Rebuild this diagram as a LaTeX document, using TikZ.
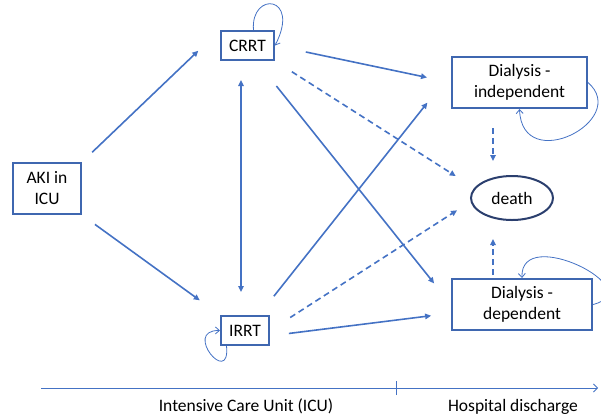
\documentclass[tikz,border=0pt]{standalone}
\usepackage{fontspec}
\setmainfont{Carlito}
\usepackage{xcolor}
\definecolor{lnblue}{HTML}{4472C4}
\definecolor{bxblue}{HTML}{3F67B0}
\definecolor{dthblue}{HTML}{2B3F6E}
\usepackage{tikz}
\usetikzlibrary{arrows.meta,shapes.geometric}

\begin{document}
\begin{tikzpicture}[x=1pt,y=-1pt,font=\fontsize{17.5}{21}\selectfont,text=black,
  state/.style={draw=bxblue,line width=2pt,inner sep=0pt,align=center},
  trans/.style={lnblue,line width=1.6pt,-{Triangle[length=6pt,width=5.5pt]}},
  dtrans/.style={trans,dash pattern=on 6pt off 4pt},
  stay/.style={lnblue,line width=0.8pt,-{Straight Barb[length=4pt,width=7pt]}}]
  \useasboundingbox (0,0) rectangle (601,416);

  %% states
  \node[state,minimum width=68pt,minimum height=51pt] (aki) at (47,188.5) {AKI in\\ICU};
  \node[state,minimum width=53pt,minimum height=29pt] (crrt) at (247.5,45.5) {CRRT};
  \node[state,minimum width=48pt,minimum height=29pt] (irrt) at (245,330.5) {IRRT};
  \node[state,minimum width=135pt,minimum height=51pt] (dind) at (519.5,82.5) {Dialysis -\\independent};
  \node[state,minimum width=140pt,minimum height=51pt] (ddep) at (522,304.5) {Dialysis -\\dependent};
  \node[state,ellipse,draw=dthblue,minimum width=82pt,minimum height=44pt] (death) at (512,198) {death};

  %% transitions
  \draw[trans,shorten <=14pt,shorten >=30pt] (aki.north east) -- (crrt.north west);
  \draw[trans,shorten <=16pt,shorten >=25pt] (aki.south east) -- (irrt.north west);
  \draw[trans,arrows={Triangle[length=6pt,width=5.5pt]-Triangle[length=6pt,width=5.5pt]},
    shorten <=19pt,shorten >=23pt] ([xshift=-6.5pt]crrt.south) -- ([xshift=-4pt]irrt.north);
  \draw[trans,shorten <=31.5pt,shorten >=24.5pt] (crrt.east) -- (dind.west);
  \draw[dtrans,shorten <=20pt,shorten >=22pt] (crrt.south east) -- (death.165);
  \draw[trans,shorten <=32pt,shorten >=27pt] (crrt.-60) -- (ddep.west);
  \draw[trans,shorten <=24pt,shorten >=38pt] (irrt.48) -- (dind.172);
  \draw[dtrans,shorten <=24pt,shorten >=16pt] (irrt.east) -- (death.185);
  \draw[trans,shorten <=19pt,shorten >=20pt] (irrt.-12) -- (ddep.187);
  \draw[dtrans,shorten <=19pt,shorten >=14pt] ([xshift=-26.5pt]dind.south) -- ([xshift=-19pt]death.north);
  \draw[dtrans,shorten <=3pt,shorten >=18pt] ([xshift=-29pt]ddep.north) -- ([xshift=-19pt]death.south);

  %% staying in the same state
  \draw[stay] (crrt.69) .. controls +(-3,-39) and +(26,-50.5) .. (crrt.east);
  \draw[stay] (irrt.220) .. controls +(4,42) and +(-38,-0.5) .. (irrt.west);
  \draw[stay] (dind.east) .. controls +(43,37.5) and +(2.5,67) .. (dind.south);
  \draw[stay] (ddep.east) .. controls +(58,-14.5) and +(-2,-54) .. (ddep.north);

  %% time line
  \coordinate (t0) at (41,388);
  \coordinate (t1) at (598,388);
  \coordinate (tk) at (396,388);
  \draw[lnblue,line width=0.8pt,-{Straight Barb[length=4pt,width=8pt]}] (t0) -- (t1);
  \draw[lnblue,line width=0.8pt] ([yshift=-7pt]tk) -- ([yshift=7pt]tk);
  \node[anchor=base] (icu) at (246,411) {Intensive Care Unit (ICU)};
  \node[anchor=base] (hosp) at (513,411) {Hospital discharge};
\end{tikzpicture}
\end{document}
